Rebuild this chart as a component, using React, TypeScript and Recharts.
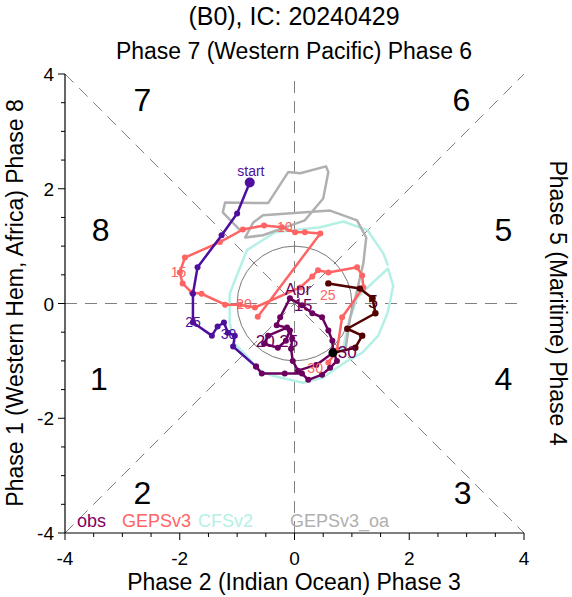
import {
  ReferenceDot,
  ReferenceLine,
  Scatter,
  ScatterChart,
  XAxis,
  YAxis,
} from "recharts";

// RMM1 / RMM2 pairs
const marchObs: [number, number][] = [
  [-0.78, 2.11], [-1.0, 1.57], [-1.27, 1.19], [-1.69, 0.63], [-1.77, 0.17],
  [-1.77, -0.33], [-1.44, -0.56], [-1.34, -0.4], [-1.23, -0.33], [-1.16, -0.51],
  [-1.04, -0.56], [-1.07, -0.75], [-0.67, -1.1],
];
const aprilObs: [number, number][] = [
  [-0.67, -1.1], [-0.57, -1.22], [-0.17, -1.22], [0.13, -1.22], [0.24, -1.33],
  [0.48, -1.24], [0.62, -1.12], [0.74, -1.0], [0.67, -0.82], [0.66, -0.65],
  [0.59, -0.47], [0.48, -0.24], [0.31, -0.17], [0.13, -0.03], [-0.08, 0.09],
  [-0.25, -0.24], [-0.31, -0.38], [-0.13, -0.42], [-0.46, -0.56], [-0.53, -0.7],
  [-0.29, -0.77], [-0.15, -0.65], [-0.08, -0.47], [-0.04, -0.61], [-0.06, -0.79],
  [-0.03, -1.0], [0.06, -1.17], [0.38, -1.07], [0.67, -0.86],
];
const mayObs: [number, number][] = [
  [0.67, -0.86], [1.06, -0.77], [1.18, -0.56], [0.92, -0.44], [1.41, -0.17],
  [1.36, 0.09], [1.14, 0.26], [0.59, 0.35],
];
const gepsv3: [number, number][] = [
  [-0.64, -0.23], [0.45, 1.22], [0.18, 1.24], [0.01, 1.24], [-0.22, 1.33],
  [-0.53, 1.36], [-0.9, 1.29], [-1.3, 1.07], [-1.91, 0.8], [-2.0, 0.54],
  [-1.95, 0.35], [-1.79, 0.19], [-1.62, 0.17], [-1.21, -0.02], [-0.95, -0.02],
  [-0.69, -0.07], [0.1, 0.28], [0.31, 0.47], [0.41, 0.58], [0.59, 0.54],
  [1.09, 0.63], [1.18, 0.49], [1.2, 0.28], [0.83, -0.24], [0.74, -0.82],
  [0.59, -1.03],
];
const cfsv2: [number, number][] = [
  [0.67, -0.86], [0.85, -0.77], [0.94, -0.35], [1.09, 0.1], [1.35, 0.35],
  [1.63, 0.61], [1.72, 0.31], [1.67, 0.05], [1.62, -0.17], [1.46, -0.56],
  [1.18, -0.86], [0.92, -1.0], [0.74, -1.12], [0.5, -1.29], [0.15, -1.38],
  [-0.38, -1.26], [-0.6, -1.17], [-1.04, -0.7], [-1.13, -0.33], [-1.13, 0.17],
  [-0.83, 0.93], [-0.34, 1.24], [0.45, 1.33], [0.85, 1.43], [1.27, 1.28],
  [1.55, 0.87], [1.63, 0.66],
];
const gepsv3oa: [number, number][] = [
  [0.88, -0.86], [0.97, -0.24], [1.06, 0.1], [1.2, 0.7], [1.25, 1.15],
  [1.09, 1.45], [0.62, 1.62], [-0.55, 1.54], [-0.72, 1.41], [-0.86, 1.15],
  [-0.55, 1.19], [0.18, 1.45], [0.5, 1.83], [0.59, 2.29], [0.55, 2.39],
  [0.1, 2.27], [-0.11, 2.29], [-0.46, 1.75], [-1.21, 1.76], [-1.25, 1.59],
  [-0.95, 1.28],
];

// day labels along the tracks: text, x, y
const marchLabels: [string, number, number][] = [
  ["start", -0.76, 2.31], ["25", -1.77, -0.32], ["30", -1.15, -0.53],
];
const aprilLabels: [string, number, number][] = [
  ["Apr", 0.06, 0.24], ["15", 0.15, -0.04], ["20", -0.51, -0.67],
  ["25", -0.1, -0.67], ["30", 0.92, -0.85],
];
const mayLabels: [string, number, number][] = [["5", 1.37, 0.03]];
const gepsLabels: [string, number, number][] = [
  ["10", -0.17, 1.34], ["15", -2.02, 0.55], ["20", -0.88, -0.01],
  ["25", 0.58, 0.15], ["30", 0.36, -1.13],
];

const phaseNames = ["1", "2", "3", "4", "5", "6", "7", "8"];
const phaseX = [-3.41, -2.65, 2.93, 3.64, 3.64, 2.91, -2.65, -3.38];
const phaseY = [-1.31, -3.3, -3.3, -1.31, 1.28, 3.55, 3.55, 1.28];

const axisTicks = [-4, -3.5, -3, -2.5, -2, -1.5, -1, -0.5, 0, 0.5, 1, 1.5, 2, 2.5, 3, 3.5, 4];

const INDIGO = "#4e0f9e";
const PURPLE = "#6b005f";
const BROWN = "#520000";
const SALMON = "#ff6464";
const CYAN = "#b4f0e6";
const GREY = "#b0b0b0";
const FONT = '"Liberation Sans", Arial, Helvetica, sans-serif';

const W = 572;
const H = 597;
const PLOT = 459;

const pts = (a: [number, number][]) => a.map(([x, y]) => ({ x, y }));
const labelPts = (a: [string, number, number][], color: string, size: number) =>
  a.map(([text, x, y]) => ({ x, y, text, color, size }));

const dot = (color: string, r: number) => (p: any) =>
  <circle cx={p.cx} cy={p.cy} r={r} fill={color} />;
const noDot = () => <g />;
const textShape = (p: any) => (
  <text
    x={p.cx}
    y={p.cy}
    textAnchor="middle"
    dominantBaseline="central"
    fill={p.payload.color}
    fontSize={p.payload.size}
    fontFamily={FONT}
  >
    {p.payload.text}
  </text>
);

const makeTick = (side: "bottom" | "top" | "left" | "right") => (p: any) => {
  const v = p.payload.value;
  const major = Math.abs(v % 2) < 1e-6;
  const len = major ? 7 : 4;
  const { x, y } = p;
  if (side === "bottom" || side === "top") {
    const d = side === "bottom" ? 1 : -1;
    return (
      <g>
        <line x1={x} x2={x} y1={y} y2={y + d * len} stroke="#000" strokeWidth={1} />
        {side === "bottom" && major && (
          <text x={x} y={y + 32} textAnchor="middle" fontSize={19} fontFamily={FONT} fill="#000">
            {String(v)}
          </text>
        )}
      </g>
    );
  }
  const d = side === "left" ? -1 : 1;
  return (
    <g>
      <line x1={x} x2={x + d * len} y1={y} y2={y} stroke="#000" strokeWidth={1} />
      {side === "left" && major && (
        <text x={x - 11} y={y + 7} textAnchor="end" fontSize={19} fontFamily={FONT} fill="#000">
          {String(v)}
        </text>
      )}
    </g>
  );
};

const dash = { stroke: "#808080", strokeWidth: 1, strokeDasharray: "12 8" };
const lineStyle = (c: string) => ({ stroke: c, strokeWidth: 2.5, strokeLinejoin: "round" as const });

export default function App() {
  const phaseData = phaseNames.map((t, i) => ({ x: phaseX[i], y: phaseY[i], text: t, color: "#000", size: 32 }));
  const labels = [
    ...labelPts(marchLabels, INDIGO, 14),
    ...labelPts(aprilLabels, PURPLE, 17),
    ...labelPts(mayLabels, BROWN, 18),
    ...labelPts(gepsLabels, SALMON, 14),
  ];

  return (
    <div style={{ position: "absolute", left: 0, top: 0, width: W, height: H, background: "#fff", fontFamily: FONT }}>
      <ScatterChart width={W} height={H} margin={{ top: 74, right: W - 65 - PLOT, bottom: H - 74 - PLOT - 30, left: 35 }}>
        <XAxis
          type="number"
          dataKey="x"
          domain={[-4, 4]}
          ticks={axisTicks}
          interval={0}
          allowDataOverflow
          height={30}
          tickSize={0}
          tickMargin={0}
          tickLine={false}
          tick={makeTick("bottom")}
          axisLine={{ stroke: "#000", strokeWidth: 1.2 }}
        />
        <XAxis
          xAxisId="top"
          orientation="top"
          type="number"
          dataKey="x"
          domain={[-4, 4]}
          ticks={axisTicks}
          interval={0}
          allowDataOverflow
          height={0}
          tickSize={0}
          tickMargin={0}
          tickLine={false}
          tick={makeTick("top")}
          axisLine={{ stroke: "#000", strokeWidth: 1.2 }}
        />
        <YAxis
          type="number"
          dataKey="y"
          domain={[-4, 4]}
          ticks={axisTicks}
          interval={0}
          allowDataOverflow
          width={30}
          tickSize={0}
          tickMargin={0}
          tickLine={false}
          tick={makeTick("left")}
          axisLine={{ stroke: "#000", strokeWidth: 1.2 }}
        />
        <YAxis
          yAxisId="right"
          orientation="right"
          type="number"
          dataKey="y"
          domain={[-4, 4]}
          ticks={axisTicks}
          interval={0}
          allowDataOverflow
          width={0}
          tickSize={0}
          tickMargin={0}
          tickLine={false}
          tick={makeTick("right")}
          axisLine={{ stroke: "#000", strokeWidth: 1.2 }}
        />

        <ReferenceLine x={0} {...dash} />
        <ReferenceLine y={0} {...dash} />
        <ReferenceLine segment={[{ x: -4, y: -4 }, { x: 4, y: 4 }]} {...dash} />
        <ReferenceLine segment={[{ x: -4, y: 4 }, { x: 4, y: -4 }]} {...dash} />
        <ReferenceDot x={0} y={0} r={PLOT / 8} fill="none" stroke="#555" strokeWidth={0.8} />

        <Scatter data={phaseData} shape={textShape} isAnimationActive={false} />

        <Scatter data={pts(cfsv2)} line={lineStyle(CYAN)} shape={noDot} isAnimationActive={false} />
        <Scatter data={pts(gepsv3oa)} line={lineStyle(GREY)} shape={noDot} isAnimationActive={false} />
        <Scatter data={pts(gepsv3)} line={lineStyle(SALMON)} shape={dot(SALMON, 3)} isAnimationActive={false} />
        <Scatter data={pts(marchObs)} line={lineStyle(INDIGO)} shape={dot(INDIGO, 3)} isAnimationActive={false} />
        <Scatter data={pts(marchObs.slice(0, 1))} shape={dot(INDIGO, 5)} isAnimationActive={false} />
        <Scatter data={pts(aprilObs)} line={lineStyle(PURPLE)} shape={dot(PURPLE, 3)} isAnimationActive={false} />
        <Scatter data={pts(mayObs)} line={lineStyle(BROWN)} shape={dot(BROWN, 3.2)} isAnimationActive={false} />
        <Scatter data={pts(mayObs.slice(0, 1))} shape={dot("#000", 4.5)} isAnimationActive={false} />

        <Scatter data={labels} shape={textShape} isAnimationActive={false} />
      </ScatterChart>

      <svg width={W} height={H} style={{ position: "absolute", left: 0, top: 0, pointerEvents: "none" }}>
        <g fontFamily={FONT} fill="#000">
          <text x={294} y={25} textAnchor="middle" fontSize={25}>(B0), IC: 20240429</text>
          <text x={294} y={59} textAnchor="middle" fontSize={23}>Phase 7 (Western Pacific) Phase 6</text>
          <text x={294} y={590} textAnchor="middle" fontSize={23}>Phase 2 (Indian Ocean) Phase 3</text>
          <text transform="translate(23,303) rotate(-90)" textAnchor="middle" fontSize={23}>
            Phase 1 (Western Hem, Africa) Phase 8
          </text>
          <text transform="translate(550,303) rotate(90)" textAnchor="middle" fontSize={23}>
            Phase 5 (Maritime) Phase 4
          </text>
        </g>
        <g fontFamily={FONT} fontSize={18}>
          <text x={77} y={527} fill="#80005f">obs</text>
          <text x={122} y={527} fill={SALMON}>GEPSv3</text>
          <text x={198} y={527} fill={CYAN}>CFSv2</text>
          <text x={290} y={527} fill={GREY}>GEPSv3_oa</text>
        </g>
      </svg>
    </div>
  );
}
